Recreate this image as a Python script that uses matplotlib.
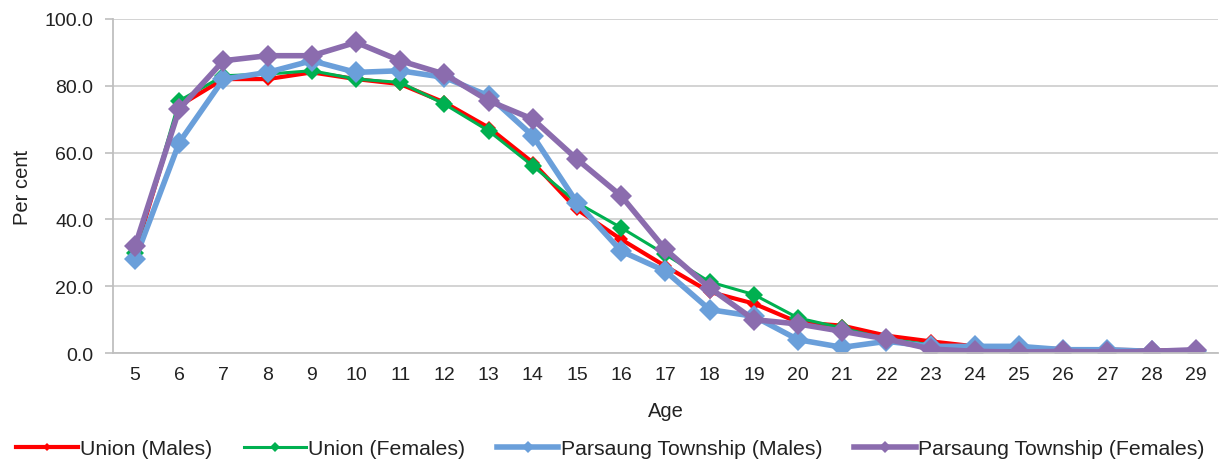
import matplotlib.pyplot as plt

plt.rcParams['font.family'] = ['Liberation Sans', 'DejaVu Sans']

# Data
ages = list(range(5, 30))
union_males = [30, 74, 82, 82, 84, 82, 80.5, 75, 67.5, 57, 43, 34, 26, 18.3, 14.8,
               9.2, 8.2, 5.2, 3.5, 2, 1.5, 1.2, 1, 0.8, 0.8]
union_females = [30, 75.5, 83, 83.5, 84.5, 82, 81, 74.5, 66.5, 56, 45, 37.5, 29.5, 21.3, 17.5,
                 10.5, 7.5, 4.2, 2.5, 1.5, 1, 0.8, 0.6, 0.5, 0.5]
parsaung_males = [28, 63, 82, 84, 87.5, 84, 84.5, 82.5, 77, 65, 45, 30.5, 24.5, 13, 11,
                  4, 1.7, 3.5, 2, 2, 2, 1, 1, 0.5, 0.5]
parsaung_females = [32, 73, 87.5, 89, 89, 93, 87.5, 83.5, 75.5, 70, 58, 47, 31, 19.5, 10,
                    8.7, 6.5, 4.2, 1.2, 0.5, 0.3, 0.5, 0.3, 0.5, 1]

series = [
    ('Union (Males)', union_males, '#FF0000', 3, 7),
    ('Union (Females)', union_females, '#00B050', 2.2, 9),
    ('Parsaung Township (Males)', parsaung_males, '#6A9FDA', 4, 11),
    ('Parsaung Township (Females)', parsaung_females, '#8B6CAE', 4, 11.5),
]

fig = plt.figure(figsize=(12.21, 4.64), dpi=100)
ax = fig.add_axes([0.0925, 0.237, 0.905, 0.72])

for label, vals, color, lw, ms in series:
    ax.plot(ages, vals, color=color, linewidth=lw, marker='D', markersize=ms,
            markeredgewidth=0, label=label)

ax.set_xlim(4.5, 29.5)
ax.set_ylim(0, 100)
ax.set_xticks(ages)
ax.set_yticks([0, 20, 40, 60, 80, 100])
ax.set_yticklabels(['%.1f' % v for v in [0, 20, 40, 60, 80, 100]])
ax.tick_params(axis='x', length=0, labelsize=14, pad=9)
ax.tick_params(axis='y', length=6, color='#BFBFBF', labelsize=14, width=1.2, pad=8)
for t in ax.get_xticklabels() + ax.get_yticklabels():
    t.set_color('#222222')
ax.grid(axis='y', color='#D0D0D0', linewidth=1.3)
ax.set_axisbelow(True)
for side in ['top', 'right']:
    ax.spines[side].set_visible(False)
for side in ['left', 'bottom']:
    ax.spines[side].set_color('#BFBFBF')
    ax.spines[side].set_linewidth(1.3)

ax.set_xlabel('Age', fontsize=14.5, labelpad=13, color='#222222')
ax.set_ylabel('Per cent', fontsize=14.5, labelpad=9, color='#222222')

leg = ax.legend(loc='upper center', bbox_to_anchor=(0.45, -0.2), ncol=4, frameon=False,
                fontsize=15.3, handlelength=2.9, columnspacing=1.5, handletextpad=0.1,
                markerscale=0.55)
for t in leg.get_texts():
    t.set_color('#222222')

fig.savefig('out.png', dpi=100)
